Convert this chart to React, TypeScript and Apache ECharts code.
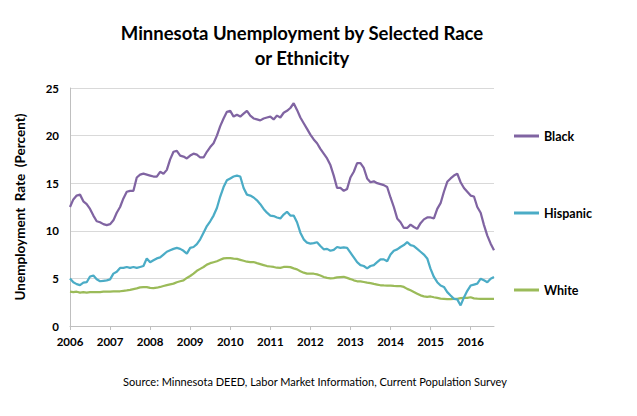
import React, { useEffect, useRef } from "react";
import * as echarts from "echarts";

const startYear = 2006;
const seriesNames = ["Black", "Hispanic", "White"];
const xTickLabels = ["2006", "2007", "2008", "2009", "2010", "2011", "2012", "2013", "2014", "2015", "2016"];

// Monthly values, Jan 2006 .. Aug 2016
const black = [
  12.5, 13.3, 13.7, 13.8, 13.1, 12.8, 12.3, 11.6, 11.0, 10.9, 10.7, 10.6,
  10.7, 11.1, 11.9, 12.5, 13.4, 14.1, 14.2, 14.2, 15.6, 15.9, 16.0, 15.9,
  15.8, 15.7, 15.7, 16.2, 16.0, 16.4, 17.5, 18.3, 18.4, 17.9, 17.8, 17.6,
  17.9, 18.1, 18.0, 17.7, 17.7, 18.3, 18.8, 19.2, 20.0, 21.0, 21.8, 22.5,
  22.6, 22.0, 22.2, 22.0, 22.3, 22.6, 22.1, 21.8, 21.7, 21.6, 21.8, 21.9,
  22.0, 21.7, 22.1, 21.9, 22.4, 22.6, 22.9, 23.4, 22.7, 21.9, 21.3, 20.7,
  20.1, 19.6, 19.2, 18.6, 18.1, 17.6, 16.9, 15.8, 14.5, 14.5, 14.2, 14.4,
  15.6, 16.2, 17.1, 17.1, 16.6, 15.5, 15.1, 15.2, 15.0, 14.9, 14.8, 14.6,
  13.5, 12.5, 11.3, 10.9, 10.3, 10.3, 10.65, 10.4, 10.2, 10.8, 11.2, 11.4,
  11.4, 11.3, 12.3, 12.9, 14.1, 15.15, 15.5, 15.8, 16.0, 15.1, 14.5, 14.1,
  13.7, 13.6, 12.5, 11.9, 10.6, 9.5, 8.65, 7.95,
];
const hispanic = [
  5.0, 4.6, 4.4, 4.3, 4.55, 4.6, 5.2, 5.3, 4.9, 4.7, 4.75, 4.8,
  4.9, 5.5, 5.7, 6.1, 6.1, 6.2, 6.1, 6.2, 6.1, 6.2, 6.3, 7.1,
  6.7, 6.9, 7.1, 7.2, 7.5, 7.8, 7.95, 8.1, 8.2, 8.1, 7.9, 7.6,
  8.2, 8.3, 8.6, 9.1, 9.8, 10.5, 11.0, 11.6, 12.4, 13.6, 14.6, 15.3,
  15.5, 15.7, 15.8, 15.7, 14.5, 13.8, 13.7, 13.5, 13.2, 12.8, 12.3, 11.9,
  11.6, 11.55, 11.4, 11.3, 11.7, 12.0, 11.6, 11.6, 10.9, 9.8, 9.1, 8.75,
  8.65, 8.7, 8.8, 8.4, 8.06, 8.1, 7.9, 8.0, 8.3, 8.2, 8.25, 8.2,
  7.7, 7.2, 6.7, 6.4, 6.3, 6.05, 6.3, 6.4, 6.7, 7.0, 7.0, 6.8,
  7.5, 7.9, 8.05, 8.3, 8.5, 8.8, 8.5, 8.4, 8.1, 7.8, 7.5, 7.1,
  6.0, 5.15, 4.6, 4.25, 4.1, 3.56, 3.2, 2.85, 2.8, 2.16, 3.0, 3.7,
  4.25, 4.35, 4.45, 4.97, 4.8, 4.6, 4.97, 5.15,
];
const white = [
  3.6, 3.55, 3.6, 3.5, 3.55, 3.5, 3.55, 3.55, 3.55, 3.56, 3.6, 3.6,
  3.62, 3.63, 3.63, 3.65, 3.7, 3.74, 3.8, 3.88, 3.95, 4.05, 4.08, 4.08,
  4.0, 3.98, 4.02, 4.1, 4.2, 4.3, 4.38, 4.45, 4.6, 4.7, 4.8, 5.05,
  5.25, 5.5, 5.8, 6.0, 6.2, 6.45, 6.6, 6.7, 6.8, 6.95, 7.1, 7.14,
  7.12, 7.07, 7.05, 6.95, 6.85, 6.75, 6.72, 6.72, 6.6, 6.5, 6.4, 6.3,
  6.25, 6.2, 6.12, 6.1, 6.2, 6.22, 6.18, 6.05, 5.95, 5.75, 5.6, 5.5,
  5.49, 5.49, 5.42, 5.3, 5.15, 5.06, 5.0, 5.03, 5.1, 5.14, 5.17, 5.05,
  4.93, 4.8, 4.7, 4.69, 4.62, 4.55, 4.5, 4.42, 4.35, 4.28, 4.26, 4.25,
  4.25, 4.22, 4.2, 4.18, 4.1, 3.9, 3.75, 3.58, 3.4, 3.22, 3.12, 3.05,
  3.1, 3.02, 2.95, 2.88, 2.86, 2.82, 2.82, 2.86, 2.86, 2.92, 2.96, 2.96,
  3.02, 2.9, 2.87, 2.86, 2.86, 2.86, 2.86, 2.86,
];

const colors = ["#8064A2", "#4BACC6", "#9BBB59"];
const FONT = "Lato, 'Liberation Sans', sans-serif";

function toPairs(values: number[]) {
  return values.map((v, i) => [startYear + i / 12, v]);
}

export default function App() {
  const ref = useRef<HTMLDivElement>(null);
  useEffect(() => {
    if (!ref.current) return;
    const chart = echarts.init(ref.current, null, { renderer: "svg" });
    const allSeries = [black, hispanic, white];
    const xMax = startYear + (black.length - 1) / 12;
    chart.setOption({
      animation: false,
      backgroundColor: "#ffffff",
      textStyle: { fontFamily: FONT },
      grid: { left: 70, right: 143, top: 88, bottom: 90, containLabel: false },
      graphic: [
        {
          type: "text",
          x: 302,
          y: 33,
          style: {
            text: "Minnesota Unemployment by Selected Race",
            font: `bold 18.5px ${FONT}`,
            fill: "#000",
            textAlign: "center",
            textVerticalAlign: "middle",
          },
        },
        {
          type: "text",
          x: 302,
          y: 58,
          style: {
            text: "or Ethnicity",
            font: `bold 18.5px ${FONT}`,
            fill: "#000",
            textAlign: "center",
            textVerticalAlign: "middle",
          },
        },
        {
          type: "text",
          x: 315,
          y: 381,
          style: {
            text: "Source: Minnesota DEED, Labor Market Information, Current Population Survey",
            font: `11px ${FONT}`,
            fill: "#000",
            textAlign: "center",
            textVerticalAlign: "middle",
          },
        },
      ],
      legend: {
        orient: "vertical",
        left: 509,
        top: 124,
        itemWidth: 25,
        itemHeight: 3,
        itemGap: 63,
        icon: "rect",
        data: seriesNames,
        textStyle: { fontFamily: FONT, fontSize: 12.5, fontWeight: "bold", color: "#000", lineHeight: 14 },
      },
      xAxis: {
        type: "value",
        min: startYear,
        max: xMax,
        interval: 1,
        splitLine: { show: false },
        axisLine: { show: true, lineStyle: { color: "#BFBFBF", width: 1 } },
        axisTick: { show: true, length: 4, lineStyle: { color: "#BFBFBF" } },
        axisLabel: {
          showMaxLabel: false,
          margin: 9,
          color: "#000",
          fontFamily: FONT,
          fontSize: 11.5,
          fontWeight: "bold",
          formatter: (v: number) => {
            const idx = Math.round(v - startYear);
            return Math.abs(v - startYear - idx) < 1e-6 && xTickLabels[idx] ? xTickLabels[idx] : "";
          },
        },
      },
      yAxis: {
        type: "value",
        min: 0,
        max: 25,
        interval: 5,
        name: "Unemployment  Rate  (Percent)",
        nameLocation: "middle",
        nameGap: 43,
        nameTextStyle: { fontFamily: FONT, fontSize: 13.5, fontWeight: "bold", color: "#000" },
        axisLine: { show: true, lineStyle: { color: "#BFBFBF", width: 1 } },
        axisTick: { show: false },
        splitLine: { show: true, lineStyle: { color: "#D9D9D9", width: 1 } },
        axisLabel: { margin: 11, color: "#000", fontFamily: FONT, fontSize: 11.5, fontWeight: "bold" },
      },
      series: allSeries.map((vals, i) => ({
        name: seriesNames[i],
        type: "line",
        data: toPairs(vals),
        showSymbol: false,
        symbol: "none",
        lineStyle: { color: colors[i], width: 2.25 },
        itemStyle: { color: colors[i] },
        z: 3 - i,
      })),
    });
    return () => chart.dispose();
  }, []);
  return <div ref={ref} style={{ width: 637, height: 416, position: "absolute", left: 0, top: 0 }} />;
}
